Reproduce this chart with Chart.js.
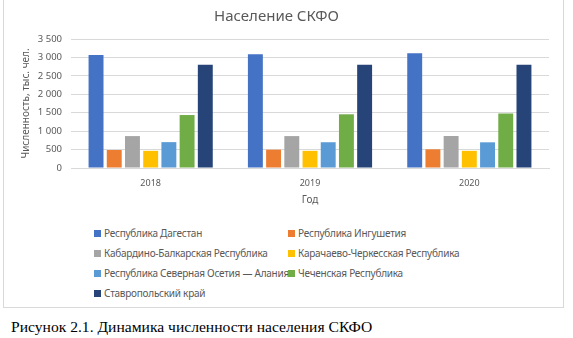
<!DOCTYPE html>
<html lang="ru">
<head>
<meta charset="utf-8">
<script src="https://cdn.jsdelivr.net/npm/chart.js@4/dist/chart.umd.min.js"></script>
<style>
  html, body { margin: 0; padding: 0; background: #fff; }
  body { width: 573px; height: 338px; position: relative; overflow: hidden; font-family: "Noto Sans", "Open Sans", sans-serif; }
  #frame { position: absolute; left: 3px; top: -1px; width: 559px; height: 307px; border: 1px solid #d9d9d9; box-sizing: content-box; }
  #wrap { position: absolute; left: 0; top: 1px; width: 560px; height: 210px; }
  #legend { position: absolute; left: 90px; top: 223px; width: 420px; display: grid; grid-template-columns: 194px 220px; grid-auto-rows: 20px; font-size: 10px; letter-spacing: -0.25px; color: #595959; }
  #legend div { display: flex; align-items: center; white-space: nowrap; height: 20px; }
  #legend span.box { display: inline-block; width: 7px; height: 7px; margin-right: 3px; flex: none; }
  #caption { position: absolute; left: 11px; top: 317px; font-family: "Liberation Serif", "Times New Roman", serif; font-size: 15.6px; color: #000; white-space: nowrap; line-height: 20px; }
</style>
</head>
<body>
<div id="frame">
  <div id="wrap"><canvas id="chart" width="560" height="210"></canvas></div>
  <div id="legend"></div>
</div>
<div id="caption">Рисунок 2.1. Динамика численности населения СКФО</div>
<script>
// Years on the category axis
const years = ['2018', '2019', '2020'];

// Population by region, thousand people
const dagestan = [3064, 3086, 3111];
const ingushetia = [488, 497, 507];
const kabardinoBalkaria = [866, 866, 868];
const karachayCherkessia = [466, 466, 466];
const northOssetia = [702, 699, 697];
const chechnya = [1437, 1457, 1479];
const stavropol = [2801, 2804, 2803];

const regionNames = [
  'Республика Дагестан',
  'Республика Ингушетия',
  'Кабардино-Балкарская Республика',
  'Карачаево-Черкесская Республика',
  'Республика Северная Осетия — Алания',
  'Чеченская Республика',
  'Ставропольский край'
];
const regionValues = [dagestan, ingushetia, kabardinoBalkaria, karachayCherkessia, northOssetia, chechnya, stavropol];
const regionColors = ['#4472C4', '#ED7D31', '#A5A5A5', '#FFC000', '#5B9BD5', '#70AD47', '#264478'];

const textColor = '#595959';
const gridColor = '#d9d9d9';
const fontFamily = '"Noto Sans", "Open Sans", sans-serif';

const chart = new Chart(document.getElementById('chart'), {
  type: 'bar',
  data: {
    labels: years,
    datasets: regionNames.map((name, i) => ({
      label: name,
      data: regionValues[i],
      backgroundColor: regionColors[i],
      borderWidth: 0,
      categoryPercentage: 0.8,
      barPercentage: 0.82
    }))
  },
  options: {
    responsive: false,
    animation: false,
    devicePixelRatio: 1,
    layout: { padding: { left: 0, right: 15, top: 0, bottom: 0 } },
    plugins: {
      legend: { display: false },
      tooltip: { enabled: false },
      title: {
        display: true,
        text: 'Население СКФО',
        color: textColor,
        font: { family: fontFamily, size: 15, weight: 'normal' },
        padding: { top: 7, bottom: 13 }
      }
    },
    scales: {
      x: {
        grid: { display: false, drawTicks: false },
        border: { display: true, color: gridColor, width: 1 },
        ticks: { color: textColor, font: { family: fontFamily, size: 9 }, padding: 10 },
        title: {
          display: true,
          text: 'Год',
          color: textColor,
          font: { family: fontFamily, size: 10 },
          padding: { top: 0, bottom: 5 }
        },
        afterFit: (scale) => { scale.height = 43; }
      },
      y: {
        min: 0,
        max: 3500,
        grid: { color: gridColor, drawTicks: false },
        border: { display: false },
        ticks: {
          stepSize: 500,
          color: textColor,
          font: { family: fontFamily, size: 9.5 },
          padding: 9,
          callback: (v) => String(v).replace(/\B(?=(\d{3})+(?!\d))/g, ' ')
        },
        title: {
          display: true,
          text: 'Численность, тыс. чел.',
          color: textColor,
          font: { family: fontFamily, size: 10 },
          padding: { top: 16, bottom: 0 }
        },
        afterFit: (scale) => { scale.width = 67; }
      }
    }
  }
});

// Two-column legend built from the chart's datasets
const legendEl = document.getElementById('legend');
chart.data.datasets.forEach((ds) => {
  const item = document.createElement('div');
  const box = document.createElement('span');
  box.className = 'box';
  box.style.background = ds.backgroundColor;
  item.appendChild(box);
  item.appendChild(document.createTextNode(ds.label));
  legendEl.appendChild(item);
});
</script>
</body>
</html>
